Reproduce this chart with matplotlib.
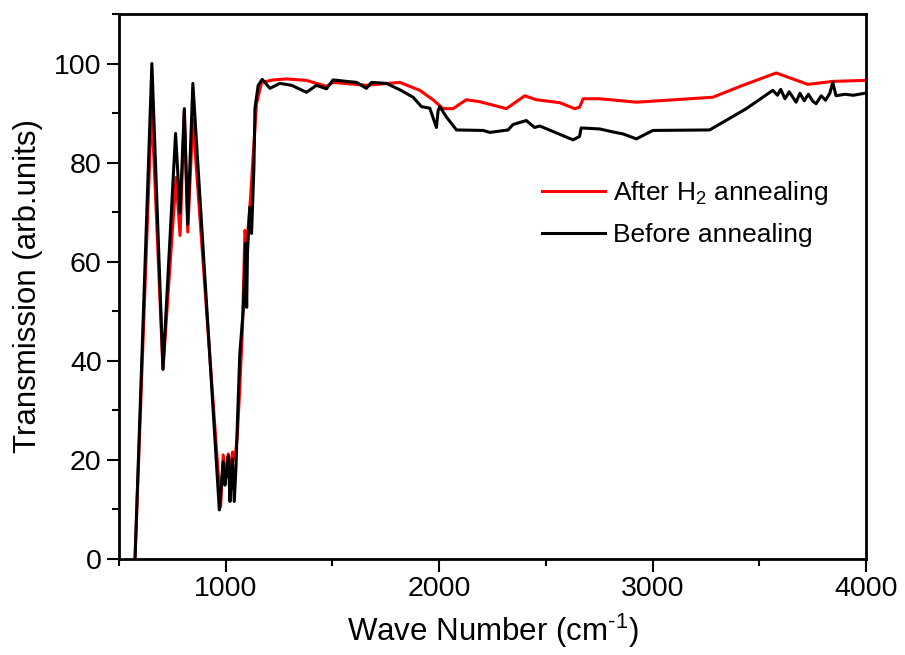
import matplotlib
matplotlib.use("Agg")
import matplotlib.pyplot as plt
from matplotlib.ticker import MultipleLocator

plt.rcParams['font.family'] = ['Liberation Sans', 'DejaVu Sans']
plt.rcParams['mathtext.fontset'] = 'custom'
plt.rcParams['mathtext.rm'] = 'Liberation Sans'
plt.rcParams['mathtext.it'] = 'Liberation Sans:italic'

# datos: numero de onda (cm-1) y transmision
wn_antes = [575, 654, 706, 765, 786, 806, 822, 846, 970, 988, 996, 1004, 1012,
            1020, 1026, 1031, 1040, 1048, 1055, 1066, 1082, 1093, 1098, 1102, 1113,
            1121, 1132, 1137, 1152, 1171, 1183, 1207, 1254, 1309, 1378, 1425, 1472,
            1503, 1566, 1613, 1659, 1683, 1753, 1816, 1878, 1917, 1956, 1987, 1995,
            2003, 2034, 2081, 2206, 2237, 2323, 2346, 2408, 2447, 2471, 2627, 2658,
            2665, 2752, 2814, 2861, 2924, 3001, 3267, 3439, 3563, 3585, 3600, 3620,
            3640, 3672, 3690, 3710, 3730, 3750, 3766, 3790, 3810, 3830, 3844, 3859,
            3900, 3940, 3993, 4000]
tr_antes = [0, 100, 38.3, 85.9, 69.8, 90.9, 67.5, 96, 9.9, 19.6, 14.9, 17.5, 20.8,
            11.6, 17.0, 20.2, 11.6, 18.6, 28, 41.5, 50.2, 63.7, 50.8, 62, 71,
            65.7, 79, 91, 95.6, 96.8, 96.2, 95, 96, 95.6, 94.2, 95.6, 94.9,
            96.7, 96.4, 96.2, 95, 96.2, 96, 94.7, 93.2, 91.3, 91, 87.1, 90.5,
            91.3, 89.2, 86.6, 86.5, 86.1, 86.6, 87.7, 88.5, 87.1, 87.4, 84.6, 85.3,
            87.0, 86.8, 86.2, 85.8, 84.8, 86.5, 86.6, 90.9, 94.6, 93.6, 94.8, 92.9,
            94.3, 92.2, 94.0, 92.5, 93.8, 92.4, 91.9, 93.5, 92.6, 94.0, 96.2, 93.5,
            93.8, 93.6, 94.0, 94.0]

wn_despues = [575, 653, 706, 767, 786, 806, 822, 846, 976, 988, 1001, 1012, 1022,
              1032, 1043, 1054, 1066, 1078, 1090, 1100, 1116, 1144, 1168, 1223, 1285,
              1378, 1472, 1503, 1659, 1816, 1909, 1971, 2018, 2065, 2127, 2190, 2315,
              2401, 2455, 2565, 2635, 2658, 2674, 2752, 2924, 3282, 3422, 3579, 3727,
              3844, 3993, 4000]
tr_despues = [0, 91.5, 38.3, 77, 65.3, 90.5, 66, 88.8, 10.5, 21, 16.6, 21.2, 17.6,
              21.6, 20, 24.7, 34.7, 46.2, 66.3, 64, 72.8, 91.9, 96.2, 96.7, 96.9,
              96.6, 95.4, 96.2, 95.6, 96.2, 94.6, 92.7, 90.9, 90.9, 92.7, 92.3, 90.9,
              93.5, 92.7, 92.1, 90.9, 91.2, 92.9, 92.9, 92.2, 93.2, 95.6, 98.1, 95.8,
              96.4, 96.6, 96.6]

fig = plt.figure(figsize=(9.05, 6.55), dpi=100)
ax = fig.add_axes([0.1315, 0.1466, 0.8255, 0.832])

ax.plot(wn_despues, tr_despues, color='#ff0000', lw=2.2, label='After H$_2$ annealing')
ax.plot(wn_antes, tr_antes, color='black', lw=2.2, label='Before annealing')

ax.set_xlim(500, 4000)
ax.set_ylim(0, 110)
ax.xaxis.set_major_locator(MultipleLocator(1000))
ax.xaxis.set_minor_locator(MultipleLocator(500))
ax.yaxis.set_major_locator(MultipleLocator(20))
ax.yaxis.set_minor_locator(MultipleLocator(10))
ax.tick_params(which='major', direction='out', length=9, width=1.5, labelsize=20.5,
               top=False, right=False)
ax.tick_params(which='minor', direction='out', length=5, width=1.5, top=False, right=False)
for s in ax.spines.values():
    s.set_linewidth(2)

ax.set_xlabel(r'Wave Number (cm$^{\text{-}1}$)', fontsize=22.5, labelpad=7)
ax.set_ylabel('Transmission (arb.units)', fontsize=22.5, labelpad=8)

ax.legend(loc='center left', bbox_to_anchor=(0.566, 0.635), frameon=False, fontsize=19,
          handlelength=2.4, handletextpad=0.3, labelspacing=0.62, borderpad=0, borderaxespad=0)

fig.savefig('out.png', dpi=100)
